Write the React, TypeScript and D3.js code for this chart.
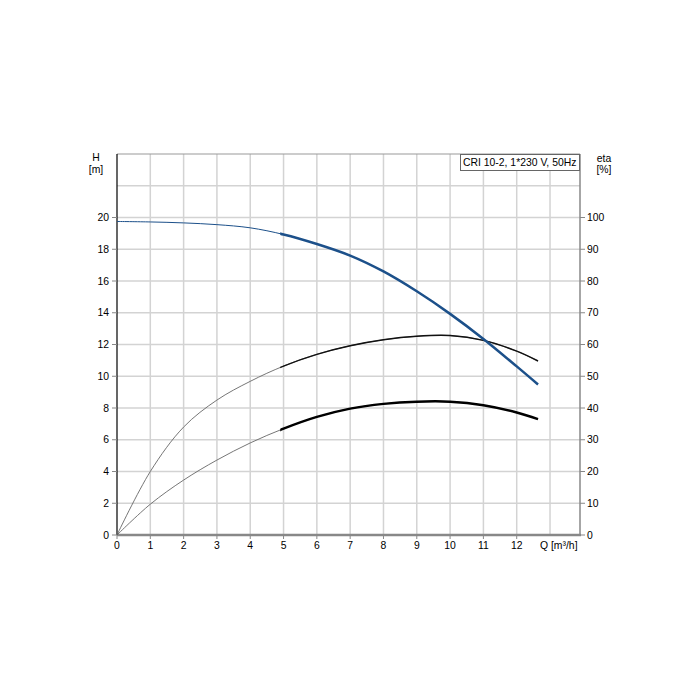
import React from "react";
import * as d3 from "d3";

const qValues = [0, 1, 2, 3, 4, 5, 6, 7, 8, 9, 10, 11, 12, 12.64];
const headValues = [19.75, 19.72, 19.66, 19.55, 19.35, 18.93, 18.33, 17.6, 16.6, 15.35, 13.93, 12.35, 10.62, 9.48];
const etaPumpValues = [0, 20, 34, 42.5, 48.4, 53.2, 56.9, 59.6, 61.5, 62.6, 62.8, 61.3, 57.9, 54.8];
const etaTotalValues = [0, 9.7, 17.3, 23.6, 29, 33.5, 37.2, 39.8, 41.3, 42.0, 42.0, 40.9, 38.6, 36.5];

const qTicks = [0, 1, 2, 3, 4, 5, 6, 7, 8, 9, 10, 11, 12];
const hTicks = [0, 2, 4, 6, 8, 10, 12, 14, 16, 18, 20];
const etaTicks = [0, 10, 20, 30, 40, 50, 60, 70, 80, 90, 100];
const qGrid = [1, 2, 3, 4, 5, 6, 7, 8, 9, 10, 11, 12, 13];
const hGrid = [2, 4, 6, 8, 10, 12, 14, 16, 18, 20, 22];

const legendText = "CRI 10-2, 1*230 V, 50Hz";
const dutyStart = 4.9;

const FONT = "'Liberation Sans', Arial, sans-serif";

export default function App() {
  const left = 117, right = 580, top = 154, bottom = 535;
  const x = d3.scaleLinear().domain([0, 13.9]).range([left, right]);
  const yH = d3.scaleLinear().domain([0, 24]).range([bottom, top]);
  const yEta = d3.scaleLinear().domain([0, 120]).range([bottom, top]);

  const headPts = qValues.map((q, i) => [q, headValues[i]] as [number, number]);
  const eta1Pts = qValues.map((q, i) => [q, etaPumpValues[i]] as [number, number]);
  const eta2Pts = qValues.map((q, i) => [q, etaTotalValues[i]] as [number, number]);

  const curve = d3.curveCatmullRom.alpha(0.5);
  const lineH = d3.line<[number, number]>().x(d => x(d[0])).y(d => yH(d[1])).curve(curve);
  const lineE = d3.line<[number, number]>().x(d => x(d[0])).y(d => yEta(d[1])).curve(curve);

  const blue = "#1c508a";
  const grid = "#d3d3d3";
  const x0 = x(dutyStart);

  return (
    <svg width={700} height={700} style={{ position: "absolute", left: 0, top: 0, background: "#fff" }}
      fontFamily={FONT} fontSize={10.4}>
      <defs>
        <clipPath id="duty">
          <rect x={x0} y={top} width={right - x0} height={bottom - top} />
        </clipPath>
      </defs>
      <rect x={0} y={0} width={700} height={700} fill="#fff" />
      {/* grid */}
      {qGrid.map(q => (
        <line key={"gx" + q} x1={x(q)} x2={x(q)} y1={top} y2={bottom} stroke={grid} strokeWidth={1.5} />
      ))}
      {hGrid.map(h => (
        <line key={"gy" + h} x1={left} x2={right} y1={yH(h)} y2={yH(h)} stroke={grid} strokeWidth={1.5} />
      ))}
      {/* frame */}
      <line x1={left} x2={right} y1={top} y2={top} stroke="#999" strokeWidth={1} />
      <line x1={right} x2={right} y1={top} y2={bottom} stroke="#888" strokeWidth={1.5} />
      <line x1={left} x2={right + 1} y1={bottom} y2={bottom} stroke="#888" strokeWidth={2.5} />
      <line x1={left} x2={left} y1={top} y2={bottom} stroke="#000" strokeWidth={1.2} />

      {/* left ticks */}
      {hTicks.map(h => (
        <g key={"lt" + h}>
          <line x1={left - 5} x2={left} y1={yH(h)} y2={yH(h)} stroke="#888" strokeWidth={1} />
          <text x={109} y={yH(h) + 3.5} textAnchor="end" fill="#000">{h}</text>
        </g>
      ))}
      {/* right ticks */}
      {etaTicks.map(e => (
        <g key={"rt" + e}>
          <line x1={right} x2={right + 5} y1={yEta(e)} y2={yEta(e)} stroke="#888" strokeWidth={1} />
          <text x={587} y={yEta(e) + 3.5} textAnchor="start" fill="#000">{e}</text>
        </g>
      ))}
      {/* bottom ticks */}
      {qTicks.map(q => (
        <g key={"bt" + q}>
          <line x1={x(q)} x2={x(q)} y1={bottom} y2={bottom + 4} stroke="#888" strokeWidth={1} />
          <text x={x(q)} y={549} textAnchor="middle" fill="#000">{q}</text>
        </g>
      ))}

      {/* axis titles */}
      <text x={96} y={161} textAnchor="middle" fill="#000">H</text>
      <text x={96} y={173} textAnchor="middle" fill="#000">[m]</text>
      <text x={604} y={162} textAnchor="middle" fill="#000">eta</text>
      <text x={604} y={173} textAnchor="middle" fill="#000">[%]</text>
      <text x={540} y={549} textAnchor="start" fill="#000">Q [m³/h]</text>

      {/* legend */}
      <rect x={460.5} y={154.5} width={119} height={16} fill="#fff" stroke="#666" strokeWidth={1} />
      <text x={463} y={165.5} fill="#000">{legendText}</text>

      {/* curves thin (full) */}
      <path d={lineE(eta1Pts) || ""} fill="none" stroke="#666" strokeWidth={0.9} />
      <path d={lineE(eta2Pts) || ""} fill="none" stroke="#666" strokeWidth={0.9} />
      <path d={lineH(headPts) || ""} fill="none" stroke={blue} strokeWidth={1} />

      {/* duty range thick */}
      <g clipPath="url(#duty)">
        <path d={lineE(eta1Pts) || ""} fill="none" stroke="#111" strokeWidth={1.5} />
        <path d={lineE(eta2Pts) || ""} fill="none" stroke="#000" strokeWidth={2.5} />
        <path d={lineH(headPts) || ""} fill="none" stroke={blue} strokeWidth={2.5} />
      </g>
    </svg>
  );
}
